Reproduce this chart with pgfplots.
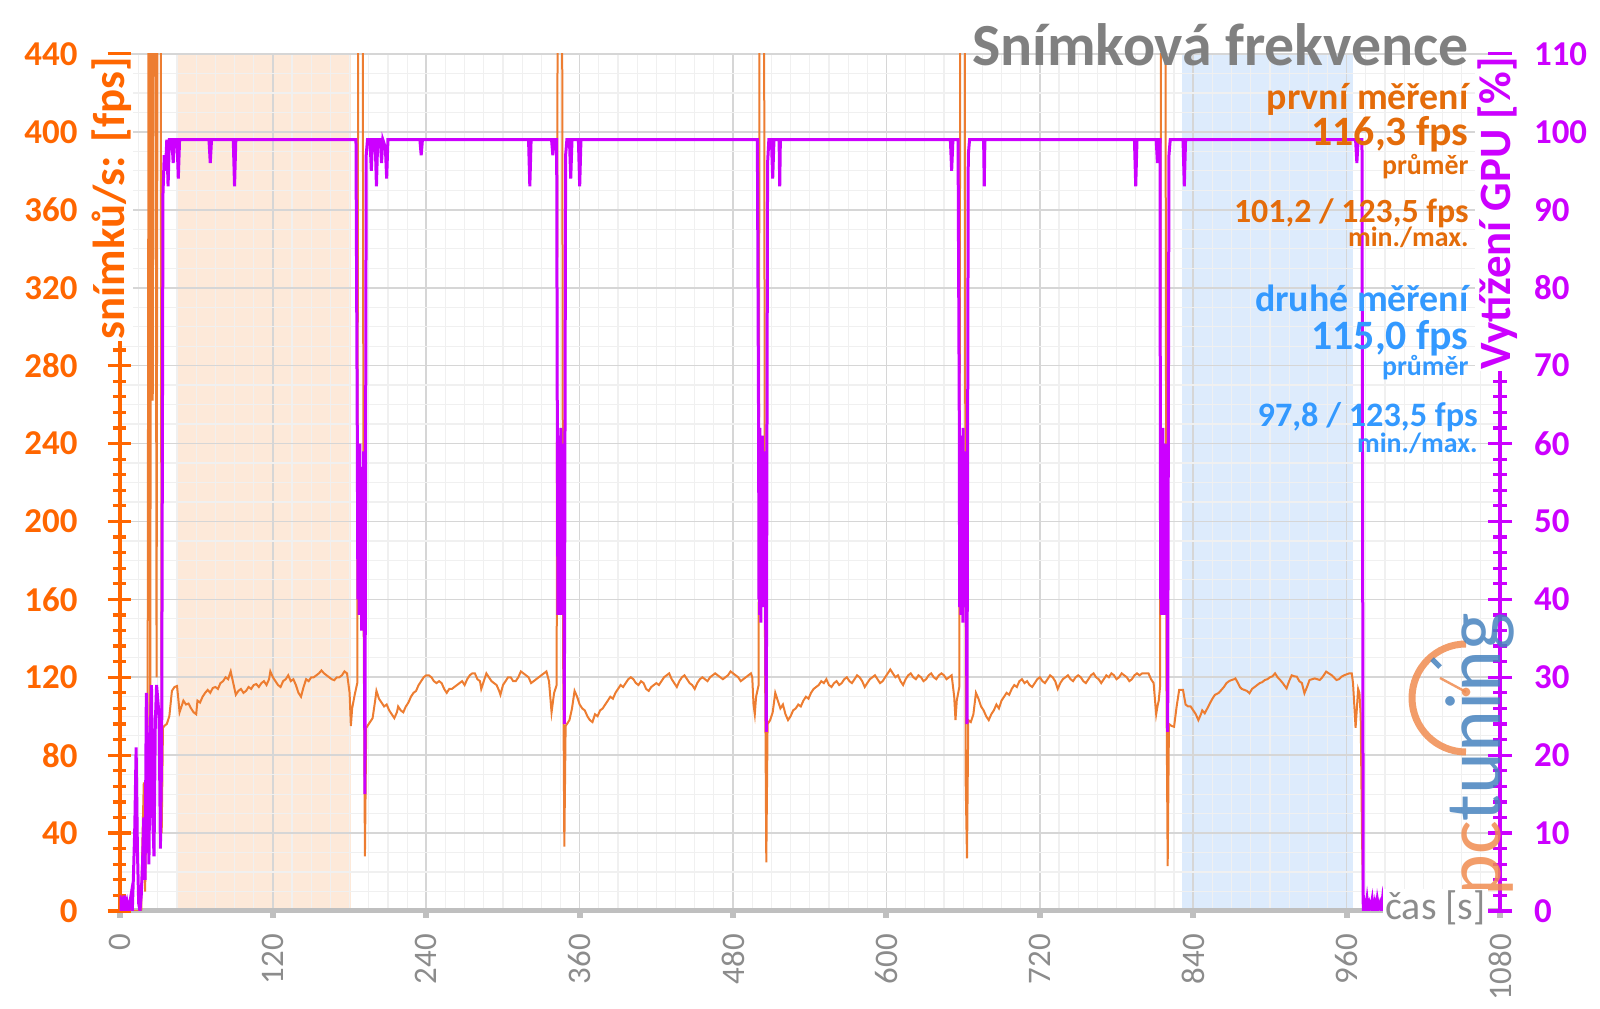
\documentclass[border=0pt]{standalone}
\usepackage{pgfplots}
\usepackage{pgfplotstable}
\pgfplotsset{compat=1.18}
\usepackage{fontspec}
\setmainfont{Carlito}
\definecolor{fpsorange}{RGB}{237,125,49}
\definecolor{tickorange}{RGB}{255,102,0}
\definecolor{txtorange}{RGB}{228,108,10}
\definecolor{gpumag}{RGB}{204,0,255}
\definecolor{txtblue}{RGB}{51,153,255}
\definecolor{titlegray}{RGB}{128,128,128}
\definecolor{shadeorange}{RGB}{253,233,217}
\definecolor{shadeblue}{RGB}{221,235,252}
\definecolor{gridmaj}{RGB}{214,214,214}
\definecolor{gridmin}{RGB}{240,240,240}
\definecolor{axisgray}{RGB}{191,191,191}
\definecolor{labgray}{RGB}{140,140,140}
\definecolor{logoorange}{RGB}{240,140,80}
\definecolor{logoblue}{RGB}{70,130,190}

\pgfplotstableread{
t fps
0 0
17 0
18 38
19 66
20 10
21 45
22 100
23 600
24 75
25 600
26 262
27 600
28 600
29 120
30 600
31 600
32 600
33 40
34 94
35 95
37 96
39 100
41 113
43 115
45 115.5
46 109
47 102
48 104
50 108
52 106
54 106.5
56 104
58 102
60 101
61 108
63 107
65 110
67 112
69 113.5
71 112
73 114.5
75 115
77 114
79 117
81 118
83 120
85 119
87 123
89 117
91 111
93 113
95 114
97 112
99 113
101 115
103 114
105 116
107 116.5
109 115
111 117
113 118
115 116
117 119
118 123
120 120
122 118
124 116
126 115
128 118
130 119
132 121
134 118
136 119
138 116
140 112
142 110
144 115
146 119
148 118
150 120
152 120
154 121
156 122
158 123.5
160 122
162 121
164 120
166 119
168 118.5
170 120
172 120
174 121
176 123
178 122
180 112
181 95
182 104
184 111
186 117
187 600
188 600
189 600
190 600
191 150
192 28
193 94
195 96
196 97
198 99
200 108
201 113
203 109
205 107
207 105
209 106
211 103
213 101
215 99
217 102
218 105
220 103
222 102
224 105
226 107
228 110
230 112
232 113
234 116
236 118
238 120
240 121
242 121
244 120
246 118
248 117
250 118
252 117
254 114
256 112
258 114
260 114
262 115
264 116
266 117
268 118
270 116
272 119
274 121
276 122
278 122
280 119
282 118
283 114
285 118
287 122
289 120
291 118
293 117
295 116
297 113
298 111
300 116
302 118
304 120
306 120
308 118
310 118
312 120
314 123
316 122
318 121
320 120
322 117
324 118
326 119
328 120
330 121
332 122
334 123
336 118
338 102
340 112
342 116
343 600
344 600
345 600
346 600
347 140
348 33
349 95
350 96
352 98
354 104
356 113
358 110
360 106
362 104
364 103
366 100
368 98
370 97
372 101
374 100
376 103
378 104
380 106
382 108
384 110
386 109
388 112
390 114
392 116
394 115
396 117
398 119
400 120
402 119
404 117
406 116
408 118
410 117
412 114
414 113
416 115
418 116
420 117
422 116
424 118
426 120
428 121
430 122
432 119
434 117
436 115
438 118
440 120
442 121
444 119
446 117
448 116
450 114
452 117
454 119
456 120
458 119
460 118
462 120
464 121
466 122
468 121
470 120
472 119
474 120
476 121
478 123
480 122
482 121
484 120
486 118
488 119
490 120
492 121
494 122
495 120
496 106
497 101
498 110
500 116
501 600
502 600
503 600
504 600
505 130
506 25
507 96
509 98
511 102
513 112
515 108
517 104
519 106
521 101
523 98
525 100
527 103
529 104
531 106
533 105
535 108
537 110
539 109
541 112
543 114
545 115
547 116
549 118
551 117
553 119
555 116
557 115
559 117
561 118
563 116
565 117
567 119
569 120
571 118
573 117
575 119
577 121
579 120
581 118
583 115
585 117
587 119
589 120
591 121
593 119
595 117
597 118
599 120
601 122
603 124
605 122
607 120
609 121
611 118
613 116
615 119
617 121
619 122
621 120
623 119
625 121
627 120
629 118
631 119
633 121
635 122
637 120
639 119
641 121
643 122
645 121
647 119
649 120
651 121
653 110
654 98
655 108
657 115
658 600
659 600
660 600
661 600
662 65
663 27
664 98
666 97
668 101
670 112
672 109
674 105
676 103
678 100
680 98
682 101
684 103
686 106
688 104
690 108
692 110
694 112
696 111
698 114
700 116
702 115
704 118
706 119
708 117
710 118
712 116
714 115
716 117
718 119
720 120
722 118
724 117
726 119
728 121
730 120
732 118
734 114
736 117
738 119
740 120
742 121
744 119
746 118
748 120
750 121
752 120
754 118
756 117
758 119
760 121
762 122
764 120
766 119
768 117
770 119
772 121
774 120
776 122
778 121
780 119
782 120
784 122
786 121
788 120
790 118
792 119
794 121
796 122
798 121
800 122
802 122
805 122
807 119
809 117
811 101
812 105
813 108
814 115
815 600
816 600
817 600
818 600
819 120
820 23
821 96
823 95
825 94.6
827 105
829 113.5
832 113.5
834 106
836 105
838 105
840 103
842 101
844 98
846 101
847 103
849 101.5
851 104
853 106.6
855 109
857 111
860 112
862 113.5
864 115
866 117
868 118
870 118.6
872 119
873 119.4
875 117
876.5 115
878 114
880 113.5
882 113
884 111.8
886 114
888 115
890 116
892 117
894 117.5
896 118.6
898 119
900 120
902 120.5
904 122
906 120
908 118.6
910 117
913 114.3
915 118
917 121
919 120.5
921 120.3
923 118
925 117
927 111.8
929 115
931 118.6
933 119
935 119.4
937 119
939 118.6
941 120
944 122.9
946 122
948 121.2
950 120
952 118.6
954 119
956 120.3
958 121
960 121.5
962 122
964 122
965 117
967 94
968 104
969 114
970 112
971 100
972 40
973 0
}\fpsdata

\pgfplotstableread{
t gpu
0 2
1 0
2 1
3 0
4 2
5 0
6 1
7 0
8 1
9 2
10 0
11 5
12 11
13 21
14 8
15 1
16 0
17 2
18 6
19 12
20 4
21 28
22 18
23 6
24 22
25 29
26 12
27 7
28 24
29 29
30 27
31 25
32 8
33 21
34 92
35 97
36 95
37 99
38 93
39 99
41 99
42 96
43 99
45 99
46 94
47 99
70 99
71 96
72 99
89 99
90 93
91 99
185 99
186 62
186.5 40
187 58
187.5 38
188 60
188.5 42
189 57
189.5 36
190 55
190.5 40
191 59
191.5 45
192 15
193 97
194 99
196 99
197 95
198 99
200 99
201 93
202 99
204 99
205 96
206 99
208 98
209 94
210 99
235 99
236 97
237 99
320 99
321 93
322 99
338 99
339 97
340 99
342 99
342.5 62
343 38
343.25 60
343.5 40
343.75 58
344 42
344.25 61
344.5 38
344.75 55
345 44
345.25 62
345.5 39
345.75 57
346 45
346.25 60
346.5 41
346.75 56
347 38
347.5 60
348 24
349 97
350 99
352 99
353 94
354 99
359 99
360 93
361 99
499 99
500 61
500.25 40
500.5 58
500.75 38
501 62
501.25 42
501.5 57
501.75 37
502 60
502.25 44
502.5 58
502.75 40
503 61
503.25 43
503.5 56
503.75 39
504 59
504.5 42
505 57
505.5 38
506 23
507 96
508 99
510 99
511 94
512 99
516 99
516.5 93
517 99
650 99
651 95
652 99
656 99
657 62
657.25 39
657.5 58
657.75 41
658 61
658.25 38
658.5 57
658.75 43
659 60
659.25 40
659.5 58
659.75 37
660 62
660.25 44
660.5 56
660.75 39
661 59
661.5 42
662 57
662.5 40
663 24
664 97
665 99
676 99
676.5 93
677 99
794 99
795 93
796 99
811 99
812 96
813 99
814 99
814.25 61
814.5 40
814.75 57
815 38
815.25 60
815.5 42
815.75 58
816 39
816.25 62
816.5 43
816.75 56
817 40
817.25 59
817.5 38
817.75 57
818 44
818.5 60
819 41
819.5 55
820 23
821 97
822 99
832 99
833 93
834 99
967 99
968 96
969 99
972 99
973 0
974 1
975 0
976 1.5
977 0
978 1
979 0.5
980 1.5
981 0
982 1
983 0
984 1.5
985 0.5
986 1
987 0
988 1.5
989 0
990 1
991 0
}\gpudata

\begin{document}
\begin{tikzpicture}[x=1bp,y=1bp]
\path[use as bounding box] (0,0) rectangle (800,504.5);
\pgfplotsset{base/.style={scale only axis, width=690.25bp, height=428.5bp,
  at={(59.75bp,49bp)}, anchor=south west, xmin=0, xmax=1080, ymin=0, ymax=440,
  /pgf/number format/assume math mode=true,
  /pgf/number format/set thousands separator={}}}

% background: shading + grid
\begin{axis}[base, axis line style={draw=none}, major tick length=0pt, minor tick length=0pt,
  xtick distance=120, ytick distance=40, minor x tick num=7, minor y tick num=3,
  xticklabels={}, yticklabels={}, grid=both, axis on top,
  major grid style={gridmaj, line width=0.8bp}, minor grid style={gridmin, line width=0.6bp}]
\addplot[draw=none, fill=shadeorange] coordinates {(44.5,0) (181,0) (181,440) (44.5,440)} -- cycle;
\addplot[draw=none, fill=shadeblue] coordinates {(831,0) (965,0) (965,440) (831,440)} -- cycle;
\end{axis}

% bottom axis
\begin{axis}[base, axis x line*=bottom, axis y line=none,
  x axis line style={axisgray, line width=2.5bp},
  xtick distance=120, tick align=outside, major tick length=3.5bp,
  every major x tick/.style={axisgray, line width=3bp},
  xticklabel shift=4.5bp,
  xticklabel style={rotate=90, anchor=east, font=\fontsize{16.5}{17}\selectfont, text=labgray}]
\end{axis}

% fps axis (left)
\begin{axis}[base, axis x line=none, axis y line*=left,
  y axis line style={tickorange, line width=2bp},
  ytick distance=40, minor y tick num=4, tick align=center,
  major tick length=12bp, minor tick length=7bp,
  every major y tick/.style={tickorange, line width=1.6bp},
  every minor y tick/.style={tickorange, line width=1.6bp},
  yticklabel shift=11.5bp,
  yticklabel style={font=\fontsize{17.5}{18}\selectfont\bfseries, text=tickorange}]
\addplot[fpsorange, line width=1bp] table[x=t, y=fps] {\fpsdata};
\end{axis}

% GPU axis (right)
\begin{axis}[base, ymin=0, ymax=110, axis x line=none, axis y line*=right,
  y axis line style={gpumag, line width=2bp},
  ytick distance=10, minor y tick num=4, tick align=center,
  major tick length=12bp, minor tick length=7bp,
  every major y tick/.style={gpumag, line width=1.6bp},
  every minor y tick/.style={gpumag, line width=1.6bp},
  yticklabel shift=7.5bp,
  yticklabel style={font=\fontsize{17.5}{18}\selectfont\bfseries, text=gpumag}]
\addplot[gpumag, line width=1.5bp] table[x=t, y=gpu] {\gpudata};
\end{axis}

% logo
\begin{scope}[opacity=0.85]
\draw[logoorange, line width=3.5bp] (733,182.5) arc[start angle=90, end angle=270, radius=27];
\draw[logoorange, line width=1.2bp] (733,158.5) -- (720,165.5);
\fill[logoorange] (733,158.5) circle (2.2);
\draw[logoblue, line width=2.5bp] (716,175) -- (720,171);
\node[rotate=90, anchor=base west, inner sep=0pt, font=\fontsize{40}{40}\selectfont]
  at (750,56) {\textcolor{logoorange}{pc}\textcolor{logoblue}{tuning}};
\end{scope}

% axis labels
\node[rotate=90, anchor=base east, fill=white, inner sep=1bp, text=tickorange,
  font=\fontsize{22.5}{22.5}\selectfont\bfseries] at (62,477) {snímků/s: [fps]};
\node[rotate=90, anchor=base east, fill=white, inner sep=1bp, text=gpumag,
  font=\fontsize{22.5}{22.5}\selectfont\bfseries] at (755,477) {Vytížení GPU [\%]};
\node[anchor=base east, fill=white, inner sep=1bp, text=labgray,
  font=\fontsize{20}{20}\selectfont] at (744,44.5) {čas [s]};

% title and statistics
\node[anchor=base east, inner sep=0pt, text=titlegray, font=\fontsize{30}{30}\selectfont\bfseries] at (734.5,471.5) {Snímková frekvence};
\node[anchor=base east, inner sep=0pt, text=txtorange, font=\fontsize{19}{19}\selectfont\bfseries] at (734.5,449.5) {první měření};
\node[anchor=base east, inner sep=0pt, text=txtorange, font=\fontsize{21}{21}\selectfont\bfseries] at (734.5,431.5) {116,3 fps};
\node[anchor=base east, inner sep=0pt, text=txtorange, font=\fontsize{14}{14}\selectfont\bfseries] at (734.5,417) {průměr};
\node[anchor=base east, inner sep=0pt, text=txtorange, font=\fontsize{17}{17}\selectfont\bfseries] at (734.5,393) {101,2 / 123,5 fps};
\node[anchor=base east, inner sep=0pt, text=txtorange, font=\fontsize{14}{14}\selectfont\bfseries] at (734.5,381) {min./max.};
\node[anchor=base east, inner sep=0pt, text=txtblue, font=\fontsize{19}{19}\selectfont\bfseries] at (734.5,348.7) {druhé měření};
\node[anchor=base east, inner sep=0pt, text=txtblue, font=\fontsize{21}{21}\selectfont\bfseries] at (734.5,329.5) {115,0 fps};
\node[anchor=base east, inner sep=0pt, text=txtblue, font=\fontsize{14}{14}\selectfont\bfseries] at (734.5,316.5) {průměr};
\node[anchor=base east, inner sep=0pt, text=txtblue, font=\fontsize{17.2}{17.2}\selectfont\bfseries] at (739,291) {97,8 / 123,5 fps};
\node[anchor=base east, inner sep=0pt, text=txtblue, font=\fontsize{14}{14}\selectfont\bfseries] at (739,278) {min./max.};
\end{tikzpicture}
\end{document}
